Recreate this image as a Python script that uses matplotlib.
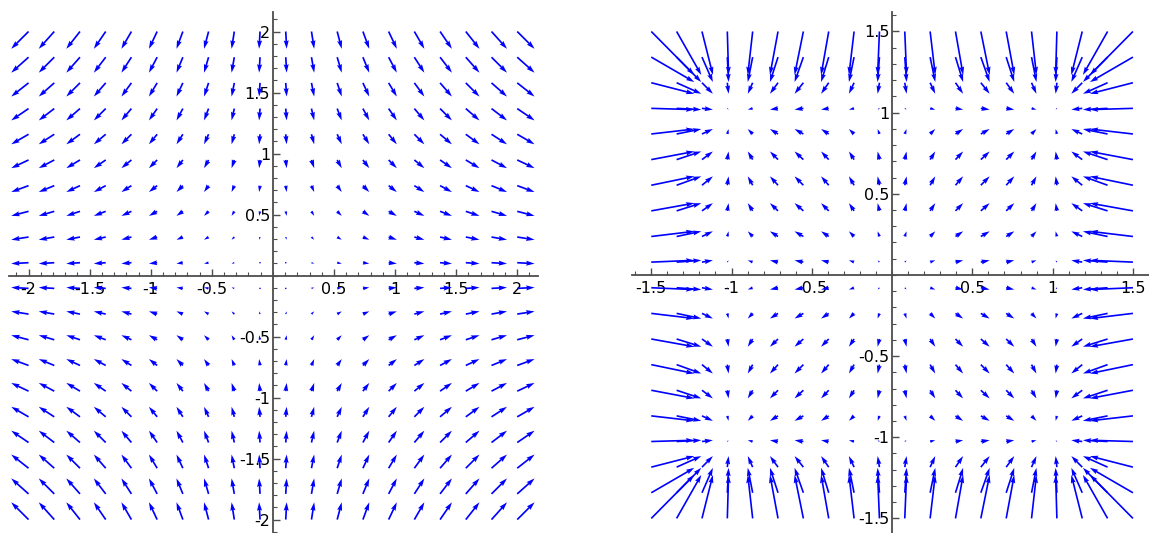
import numpy as np
import matplotlib
matplotlib.use("Agg")
import matplotlib.pyplot as plt
from matplotlib.ticker import FixedLocator, MultipleLocator, FixedFormatter

plt.rcParams['axes.unicode_minus'] = False
plt.rcParams['font.family'] = ['DejaVu Sans']

# Left panel: field F(x, y) = (x, -y) sampled on a 20x20 grid over [-2, 2]^2
left_range = (-2.0, 2.0)
left_points = 20
left_ticks = [-2, -1.5, -1, -0.5, 0.5, 1, 1.5, 2]
left_labels = ["-2", "-1.5", "-1", "-0.5", "0.5", "1", "1.5", "2"]

# Right panel: field F(x, y) = (x - x^3, y - y^3) sampled on a 20x20 grid over [-1.5, 1.5]^2
right_range = (-1.5, 1.5)
right_points = 20
right_ticks = [-1.5, -1, -0.5, 0.5, 1, 1.5]
right_labels = ["-1.5", "-1", "-0.5", "0.5", "1", "1.5"]


def field_left(x, y):
    return x, -y


def field_right(x, y):
    return x - x**3, y - y**3


W, H = 1149, 533
fig = plt.figure(figsize=(W / 100, H / 100), dpi=100)


def make_axes(px_left, px_right, px_top, px_bottom):
    return fig.add_axes([px_left / W, 1 - px_bottom / H,
                         (px_right - px_left) / W, (px_bottom - px_top) / H])


def style(ax, ticks, labels):
    for s in ['top', 'right']:
        ax.spines[s].set_visible(False)
    for s in ['left', 'bottom']:
        ax.spines[s].set_position(('data', 0))
        ax.spines[s].set_color('0.3')
        ax.spines[s].set_linewidth(1.3)
    ax.xaxis.set_major_locator(FixedLocator(ticks))
    ax.xaxis.set_major_formatter(FixedFormatter(labels))
    ax.yaxis.set_major_locator(FixedLocator(ticks))
    ax.yaxis.set_major_formatter(FixedFormatter(labels))
    ax.xaxis.set_minor_locator(MultipleLocator(0.1))
    ax.yaxis.set_minor_locator(MultipleLocator(0.1))
    ax.tick_params(which='major', direction='in', length=5, width=1, color='0.3',
                   labelsize=11.5)
    ax.tick_params(which='minor', direction='in', length=3, width=0.8, color='0.3')
    ax.tick_params(axis='x', which='major', pad=4.5)
    ax.tick_params(axis='y', which='major', pad=2)
    ax.set_facecolor('none')


def draw(ax, rng, n, func, scale):
    xs = np.linspace(rng[0], rng[1], n)
    ys = np.linspace(rng[0], rng[1], n)
    X, Y = np.meshgrid(xs, ys)
    U, V = func(X, Y)
    ax.quiver(X, Y, U, V, color='#0000ff', angles='xy', scale_units='xy',
              scale=scale, pivot='tail', width=0.0032, headwidth=3,
              headlength=5, headaxislength=4.5, zorder=3)


ax1 = make_axes(9, 538, 12, 533)
draw(ax1, left_range, left_points, field_left, 14.1)
ax1.set_xlim(-2.16, 2.17)
ax1.set_ylim(-2.11, 2.16)
style(ax1, left_ticks, left_labels)

ax2 = make_axes(632, 1149, 12, 533)
draw(ax2, right_range, right_points, field_right, 7.0)
ax2.set_xlim(-1.62, 1.60)
ax2.set_ylim(-1.59, 1.62)
style(ax2, right_ticks, right_labels)

fig.savefig('out.png', dpi=100)
